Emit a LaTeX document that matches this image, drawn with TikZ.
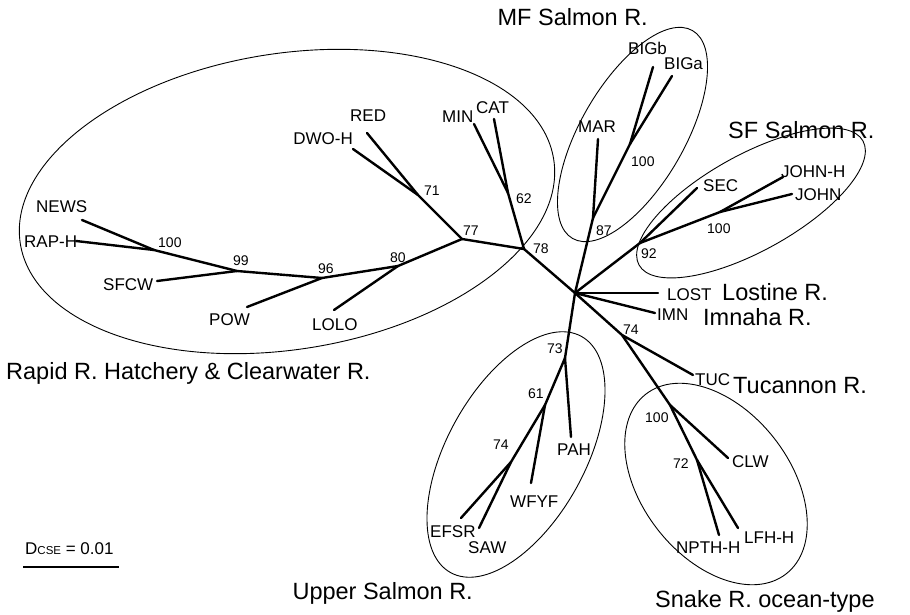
\documentclass[tikz,border=0pt]{standalone}
\usepackage{fontspec}
\setmainfont{Liberation Sans}
\tikzset{
  leaf/.style={font=\fontsize{17}{20}\selectfont, inner sep=0pt, anchor=base west},
  grp/.style={font=\fontsize{23.5}{28}\selectfont, inner sep=0pt, anchor=base west},
  bs/.style={font=\fontsize{14}{16}\selectfont, inner sep=0pt, anchor=base west},
  br/.style={line width=2.4pt, line cap=round, line join=round},
  ring/.style={line width=0.9pt},
}
\begin{document}
\begin{tikzpicture}[x=1pt,y=-1pt]
\useasboundingbox (0,0) rectangle (910,615);
% ellipses
\draw[ring, rotate around={9:(287,201.5)}] (287,201.5) ellipse [x radius=270pt, y radius=148pt];
\draw[ring, rotate around={60:(632.5,134.5)}] (632.5,134.5) ellipse [x radius=120pt, y radius=52pt];
\draw[ring, rotate around={29:(751,203)}] (751,203) ellipse [x radius=128pt, y radius=48pt];
\draw[ring, rotate around={61:(516,454.5)}] (516,454.5) ellipse [x radius=135pt, y radius=69pt];
\draw[ring, rotate around={-52:(716,484)}] (716,484) ellipse [x radius=114pt, y radius=74pt];
% internal nodes
\coordinate (c) at (575,293);
\coordinate (n100a) at (154,250);
\coordinate (n99) at (237,271);
\coordinate (n96) at (322,278);
\coordinate (n80) at (398,266);
\coordinate (n77) at (462,239);
\coordinate (n71) at (418,195);
\coordinate (n78) at (524,249);
\coordinate (n62) at (508,193);
\coordinate (n87) at (593,218);
\coordinate (n100b) at (630,144);
\coordinate (n92) at (640,243);
\coordinate (n100c) at (720,212);
\coordinate (n74t) at (622,335);
\coordinate (n100d) at (670,405);
\coordinate (n72) at (697,460);
\coordinate (n73) at (565,358);
\coordinate (n61) at (545,405);
\coordinate (n74u) at (511,462);
% leaf ends
\coordinate (eNEWS) at (82,220);
\coordinate (eRAP) at (76,241);
\coordinate (eSFCW) at (157,281);
\coordinate (ePOW) at (247,307);
\coordinate (eLOLO) at (334,310);
\coordinate (eDWO) at (353,149);
\coordinate (eRED) at (367,133);
\coordinate (eMIN) at (474,124);
\coordinate (eCAT) at (494,119);
\coordinate (eMAR) at (598,139);
\coordinate (eBIGb) at (653,67);
\coordinate (eBIGa) at (672,76);
\coordinate (eSEC) at (697,188);
\coordinate (eJOHNH) at (783,177);
\coordinate (eJOHN) at (792,194);
\coordinate (eLOST) at (658,293);
\coordinate (eIMN) at (655,313);
\coordinate (eTUC) at (693,375);
\coordinate (eCLW) at (728,458);
\coordinate (eNPTH) at (719,535);
\coordinate (eLFH) at (738,528);
\coordinate (ePAH) at (571,437);
\coordinate (eWFYF) at (531,483);
\coordinate (eEFSR) at (461,518);
\coordinate (eSAW) at (479,528);
% branches
\draw[br] (eNEWS) -- (n100a);
\draw[br] (eRAP) -- (n100a);
\draw[br] (n100a) -- (n99);
\draw[br] (eSFCW) -- (n99);
\draw[br] (n99) -- (n96);
\draw[br] (ePOW) -- (n96);
\draw[br] (n96) -- (n80);
\draw[br] (eLOLO) -- (n80);
\draw[br] (n80) -- (n77);
\draw[br] (n77) -- (n71);
\draw[br] (n71) -- (eDWO);
\draw[br] (n71) -- (eRED);
\draw[br] (n77) -- (n78);
\draw[br] (n78) -- (n62);
\draw[br] (n62) -- (eMIN);
\draw[br] (n62) -- (eCAT);
\draw[br] (n78) -- (c);
\draw[br] (c) -- (n87);
\draw[br] (n87) -- (eMAR);
\draw[br] (n87) -- (n100b);
\draw[br] (n100b) -- (eBIGb);
\draw[br] (n100b) -- (eBIGa);
\draw[br] (c) -- (n92);
\draw[br] (n92) -- (eSEC);
\draw[br] (n92) -- (n100c);
\draw[br] (n100c) -- (eJOHNH);
\draw[br] (n100c) -- (eJOHN);
\draw[br] (c) -- (eLOST);
\draw[br] (c) -- (eIMN);
\draw[br] (c) -- (n74t);
\draw[br] (n74t) -- (eTUC);
\draw[br] (n74t) -- (n100d);
\draw[br] (n100d) -- (eCLW);
\draw[br] (n100d) -- (n72);
\draw[br] (n72) -- (eNPTH);
\draw[br] (n72) -- (eLFH);
\draw[br] (c) -- (n73);
\draw[br] (n73) -- (ePAH);
\draw[br] (n73) -- (n61);
\draw[br] (n61) -- (eWFYF);
\draw[br] (n61) -- (n74u);
\draw[br] (n74u) -- (eEFSR);
\draw[br] (n74u) -- (eSAW);
% leaf labels
\node[leaf] (NEWS) at (36,212) {NEWS};
\node[leaf] (RAPH) at (24,247) {RAP-H};
\node[leaf] (SFCW) at (103,290) {SFCW};
\node[leaf] (POW) at (209,325) {POW};
\node[leaf] (LOLO) at (312,330) {LOLO};
\node[leaf, anchor=base east] (DWOH) at (353,145) {DWO-H};
\node[leaf] (RED) at (350,122) {RED};
\node[leaf] (MIN) at (442,123) {MIN};
\node[leaf] (CAT) at (476,114) {CAT};
\node[leaf] (MAR) at (578,132) {MAR};
\node[leaf] (BIGb) at (628,55) {BIGb};
\node[leaf] (BIGa) at (664,70) {BIGa};
\node[leaf] (SEC) at (703,191) {SEC};
\node[leaf] (JOHNH) at (781,177) {JOHN-H};
\node[leaf] (JOHN) at (795,200) {JOHN};
\node[leaf] (LOST) at (667,300) {LOST};
\node[leaf] (IMN) at (657,320) {IMN};
\node[leaf] (TUC) at (695,385) {TUC};
\node[leaf] (CLW) at (732,467) {CLW};
\node[leaf] (NPTH) at (676,553) {NPTH-H};
\node[leaf] (LFH) at (744,543) {LFH-H};
\node[leaf] (PAH) at (557,455) {PAH};
\node[leaf] (WFYF) at (510,507) {WFYF};
\node[leaf] (EFSR) at (430,537) {EFSR};
\node[leaf] (SAW) at (468,553) {SAW};
% group labels
\node[grp] (gRapid) at (6,379) {Rapid R. Hatchery \& Clearwater R.};
\node[grp, anchor=base east] (gMF) at (648,26) {MF Salmon R.};
\node[grp] (gSF) at (728,139) {SF Salmon R.};
\node[grp] (gLost) at (722,300) {Lostine R.};
\node[grp] (gImn) at (703,325) {Imnaha R.};
\node[grp] (gTuc) at (733,393) {Tucannon R.};
\node[grp, anchor=base east] (gUpper) at (473,599) {Upper Salmon R.};
\node[grp] (gSnake) at (655,607) {Snake R. ocean-type};
% bootstrap values
\node[bs] (b100a) at (158,247) {100};
\node[bs] (b99) at (233,265) {99};
\node[bs] (b96) at (318,273) {96};
\node[bs] (b80) at (390,262) {80};
\node[bs] (b77) at (463,235) {77};
\node[bs] (b71) at (424,195) {71};
\node[bs] (b78) at (533,253) {78};
\node[bs] (b62) at (516,203) {62};
\node[bs] (b87) at (596,235) {87};
\node[bs] (b100b) at (631,167) {100};
\node[bs] (b92) at (641,258) {92};
\node[bs] (b100c) at (707,233) {100};
\node[bs] (b74t) at (623,334) {74};
\node[bs] (b73) at (547,353) {73};
\node[bs] (b61) at (528,398) {61};
\node[bs] (b74u) at (493,449) {74};
\node[bs] (b100d) at (645,422) {100};
\node[bs] (b72) at (673,468) {72};
% scale
\node[inner sep=0pt, anchor=base west, font=\fontsize{17}{20}\selectfont] (scl) at (25,554) {D{\fontsize{11.5}{12}\selectfont CSE} = 0.01};
\coordinate (s1) at (23,567);
\coordinate (s2) at (119,567);
\draw[line width=2.4pt] (s1) -- (s2);
\end{tikzpicture}
\end{document}
